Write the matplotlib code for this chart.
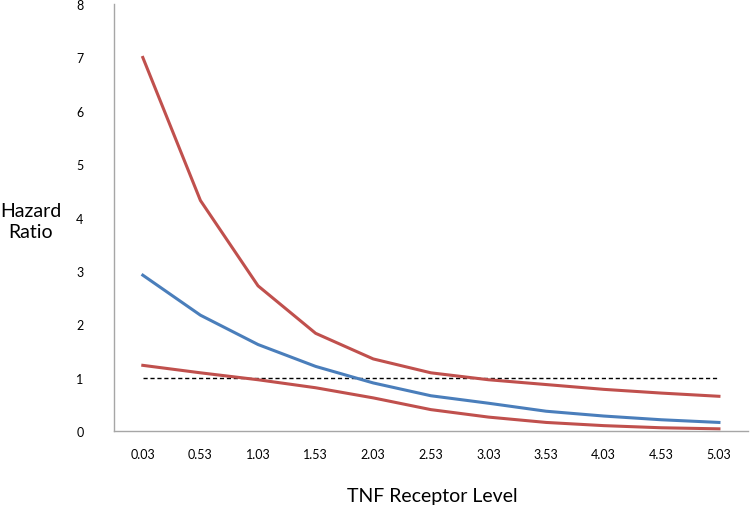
import matplotlib
matplotlib.use("Agg")
import matplotlib.pyplot as plt

categories = ["0.03", "0.53", "1.03", "1.53", "2.03", "2.53", "3.03", "3.53", "4.03", "4.53", "5.03"]
upper_red = [7.00, 4.32, 2.72, 1.83, 1.35, 1.09, 0.96, 0.87, 0.78, 0.71, 0.65]
blue = [2.92, 2.17, 1.62, 1.21, 0.90, 0.66, 0.52, 0.37, 0.28, 0.21, 0.16]
lower_red = [1.23, 1.09, 0.96, 0.81, 0.62, 0.40, 0.26, 0.16, 0.10, 0.06, 0.04]
reference = [1.0] * len(categories)
yticks = [0, 1, 2, 3, 4, 5, 6, 7, 8]

plt.rcParams['font.family'] = ['Lato', 'DejaVu Sans']

fig = plt.figure(figsize=(7.5, 5.1), dpi=100)
ax = fig.add_axes([0.152, 0.153, 0.845, 0.837])

x = list(range(len(categories)))
red = "#C0504D"
blu = "#4A7EBB"
ax.plot(x, reference, color="black", linestyle=(0, (3, 2)), linewidth=1.0)
ax.plot(x, lower_red, color=red, linewidth=2.2, solid_joinstyle="round")
ax.plot(x, blue, color=blu, linewidth=2.2, solid_joinstyle="round")
ax.plot(x, upper_red, color=red, linewidth=2.2, solid_joinstyle="round")

ax.set_xlim(-0.5, len(categories) - 0.5)
ax.set_ylim(0, 8)
ax.set_xticks(x)
ax.set_xticklabels(categories, fontsize=9)
ax.set_yticks(yticks)
ax.set_yticklabels([str(v) for v in yticks], fontsize=9)
ax.tick_params(axis="both", length=0)
ax.tick_params(axis="x", pad=12)
ax.tick_params(axis="y", pad=22)

for s in ["top", "right"]:
    ax.spines[s].set_visible(False)
for s in ["left", "bottom"]:
    ax.spines[s].set_color("#A6A6A6")
    ax.spines[s].set_linewidth(1.0)

fig.text(31 / 750, 1 - 222 / 510, "Hazard\nRatio", ha="center", va="center", fontsize=14, linespacing=1.3)
fig.text(432 / 750, 1 - 497 / 510, "TNF Receptor Level", ha="center", va="center", fontsize=14)

fig.savefig("out.png", dpi=100)
